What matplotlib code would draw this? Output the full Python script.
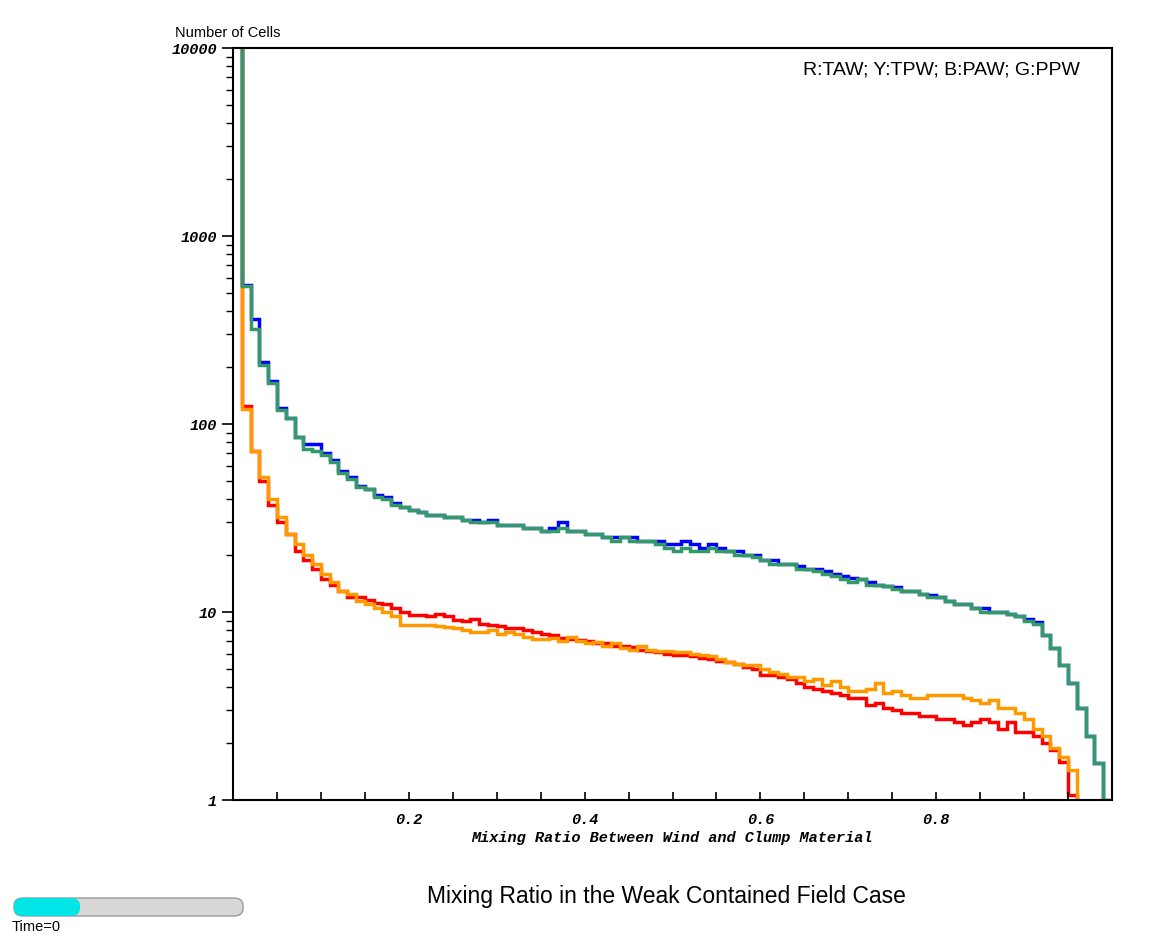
import numpy as np
import matplotlib
matplotlib.use("Agg")
import matplotlib.pyplot as plt
from matplotlib.patches import FancyBboxPatch

edges = np.linspace(0, 1, 101)
blue = [50000,
 550,360,214,170,121,108,85,78,78,70,
 64,56,52,47,45,42,41,38,36,35,
 34,33,33,32,32,31,31,30,31,29,
 29,29,28,28,27,28,30,27,27,26,
 26,25,25,25,25,24,24,24,23,23,
 24,23,22,23,22,21,21,20,20,19,
 19,18,18,17.5,17,17,16.5,16,15.5,15.2,
 15,14.5,14,13.8,13.5,13,13,12.5,12.3,12,
 11.5,11,11,10.5,10.5,10,10,9.8,9.5,9.2,
 8.8,7.5,6.4,5.2,4.2,3.1,2.2,1.57,1.0]
green = [50000,
 540,320,205,165,118,107,85,74,72,68,
 63,55,51,46,45,41,40,37,36,35,
 34,33,33,32,32,31,30,30,30,29,
 29,29,28,28,27,27,28,27,27,26,
 26,25,24,25,24,24,24,23,22,21,
 22,21,21,22,21,21,20,20,19.5,19,
 18,18,18,17,17,16.5,16,15.5,15,14.5,
 15,14,14,13.8,13.3,13,13,12.5,12,12,
 11.5,11,11,10.5,10,10,10,9.8,9.5,9.0,
 8.6,7.5,6.4,5.2,4.2,3.1,2.2,1.57,0.5]
red = [50000,
 125,72,50,37,30,26,21,19,17,15,
 14,13,12,12,11.6,11.2,11,10.5,10,9.6,
 9.6,9.5,9.8,9.5,9.1,9.0,9.2,8.6,8.5,8.4,
 8.2,8.2,8.0,7.8,7.6,7.5,7.3,7.2,7.1,7.0,
 6.8,6.8,6.6,6.6,6.5,6.3,6.2,6.1,6.0,5.9,
 5.9,5.8,5.7,5.6,5.5,5.4,5.3,5.1,5.0,4.6,
 4.6,4.5,4.4,4.2,4.0,3.9,3.8,3.7,3.6,3.5,
 3.5,3.2,3.3,3.1,3.0,2.9,2.9,2.8,2.8,2.7,
 2.7,2.6,2.5,2.6,2.7,2.6,2.4,2.6,2.3,2.3,
 2.2,2.0,1.85,1.6,1.06,0.5,0.5,0.5,0.5]
orange = [50000,
 120,72,52,40,32,26,23,20,18,16,
 14.5,13,12.5,11.5,11.0,10.5,10,9.5,8.5,8.5,
 8.5,8.5,8.4,8.3,8.2,8.0,7.8,7.8,8.0,7.6,
 7.8,7.6,7.4,7.2,7.2,7.3,7.0,7.4,7.0,6.8,
 6.9,6.6,6.8,6.4,6.3,6.6,6.3,6.2,6.2,6.1,
 6.1,6.0,5.9,5.8,5.6,5.4,5.3,5.2,5.2,5.0,
 4.8,4.7,4.5,4.5,4.3,4.4,4.1,4.3,4.0,3.8,
 3.8,3.9,4.2,3.7,3.8,3.6,3.5,3.5,3.6,3.6,
 3.6,3.6,3.5,3.4,3.3,3.4,3.1,3.1,2.9,2.7,
 2.4,2.2,1.9,1.7,1.44,0.5,0.5,0.5,0.5]

xticks = [0.2, 0.4, 0.6, 0.8]
yticks = [1, 10, 100, 1000, 10000]
ytick_labels = ["1", "10", "100", "1000", "10000"]

fig = plt.figure(figsize=(11.71, 9.42), dpi=100)
ax = fig.add_axes([233/1171, 1-800/942, (1112-233)/1171, (800-48)/942])
for vals, c in [(red, "#ff0000"), (orange, "#ff9900"), (blue, "#0000ff"), (green, "#339966")]:
    ax.stairs(vals, edges, color=c, lw=2.5, baseline=None)
ax.set_yscale("log")
ax.set_xlim(0, 1)
ax.set_ylim(1, 10000)
mono = dict(family="Liberation Mono", weight="bold", style="italic", fontsize=11)
ax.set_xticks(xticks)
ax.set_xticklabels([f"{t:.1f}" for t in xticks], **mono)
ax.set_xticks(np.arange(0.05, 1.0, 0.05), minor=True)
ax.set_xticklabels([], minor=True)
ax.set_yticks(yticks)
ax.set_yticklabels(ytick_labels, **mono)
ax.tick_params(axis="x", which="both", direction="in", length=6, width=1.2, pad=9)
ax.tick_params(axis="y", which="major", direction="out", length=8, width=1.2)
ax.tick_params(axis="y", which="minor", direction="out", length=5, width=1)
for s in ax.spines.values():
    s.set_linewidth(1.5)
fig.text(672/1171, 1-838/942, "Mixing Ratio Between Wind and Clump Material",
         ha="center", va="center", **mono)
fig.text(175/1171, 1-33/942, "Number of Cells", fontsize=10.5, va="center",
         family="Liberation Sans")
fig.text(1080/1171, 1-70/942, "R:TAW; Y:TPW; B:PAW; G:PPW", fontsize=14,
         ha="right", va="center", family="Liberation Sans")
fig.text(666/1171, 1-896/942, "Mixing Ratio in the Weak Contained Field Case",
         fontsize=16.5, ha="center", va="center", family="Liberation Sans")
# time slider
fig.patches.append(FancyBboxPatch((14/1171, 1-916/942), 229/1171, 18/942,
    boxstyle="round,pad=0,rounding_size=0.008", transform=fig.transFigure,
    facecolor="#d8d8d8", edgecolor="#999999", lw=1))
fig.patches.append(FancyBboxPatch((14/1171, 1-916/942), 66/1171, 18/942,
    boxstyle="round,pad=0,rounding_size=0.008", transform=fig.transFigure,
    facecolor="#00e5e5", edgecolor="none"))
fig.text(12/1171, 1-927/942, "Time=0", fontsize=10.5, va="center", family="Liberation Sans")
fig.savefig("out.png", dpi=100)
